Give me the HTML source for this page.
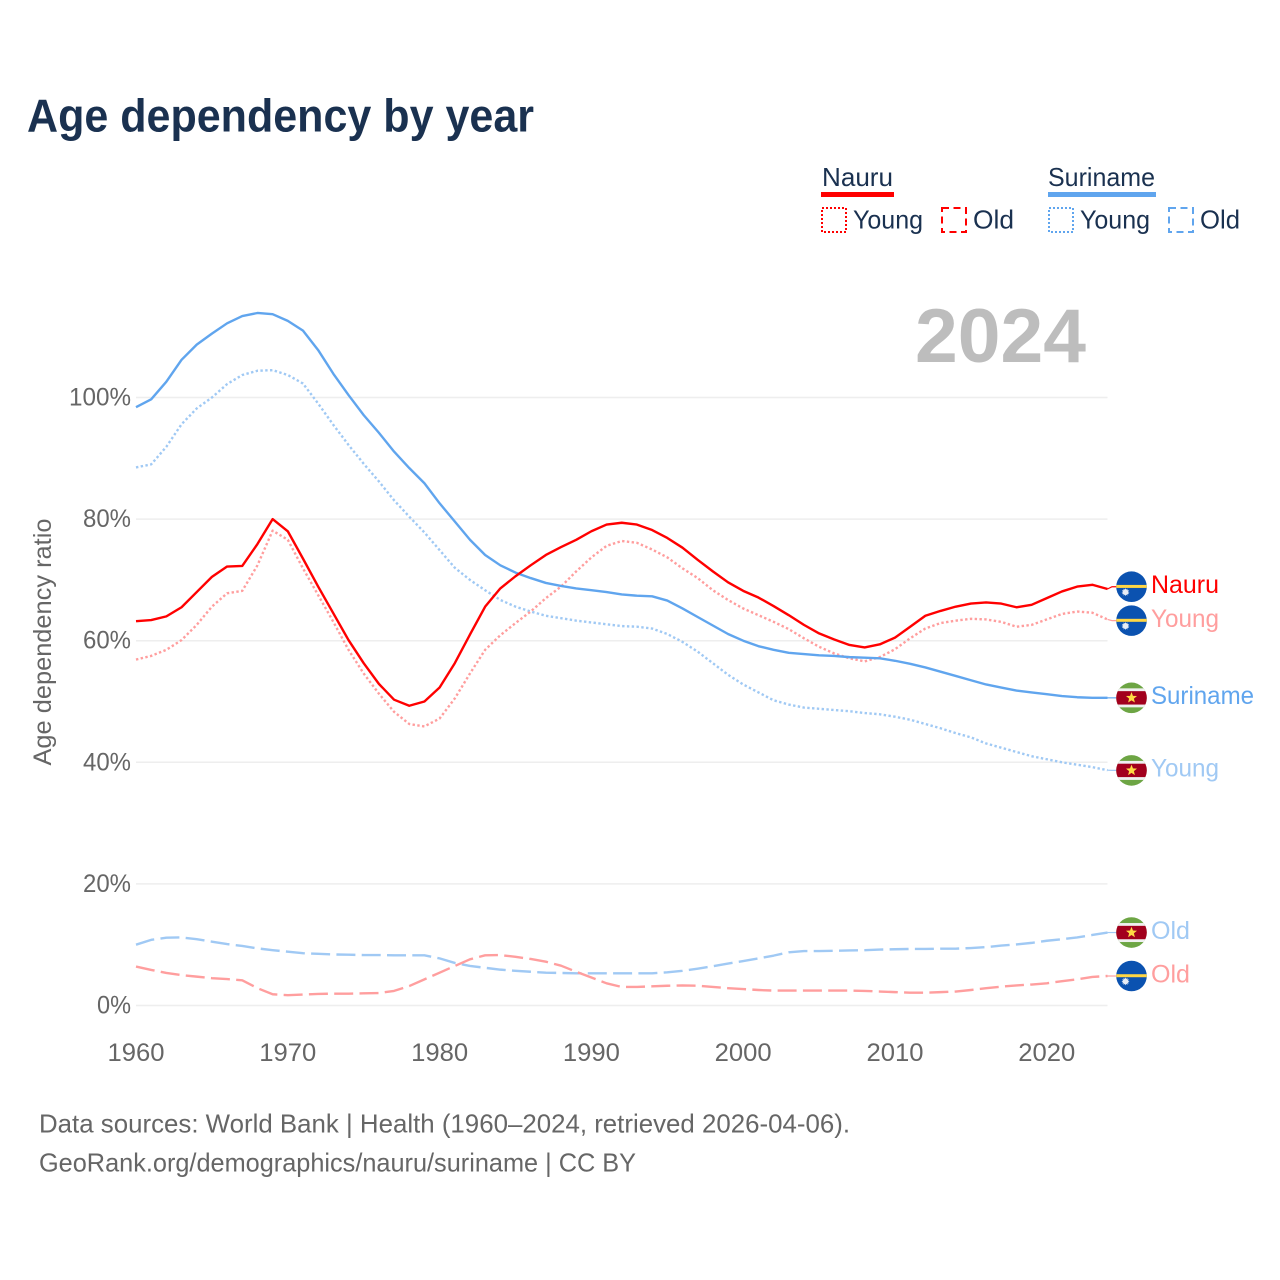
<!DOCTYPE html>
<html lang="en">
<head>
<meta charset="utf-8">
<title>Age dependency by year</title>
<style>
html,body{margin:0;padding:0;background:#fff;}
svg{display:block;font-family:"Liberation Sans",sans-serif;}
</style>
</head>
<body>
<svg id="chart" xmlns="http://www.w3.org/2000/svg" width="1280" height="1280" viewBox="0 0 1280 1280">
  <rect x="0" y="0" width="1280" height="1280" fill="#ffffff"/>
  <text x="27" y="131.5" font-size="46" font-weight="700" fill="#1a3150" textLength="507" lengthAdjust="spacingAndGlyphs">Age dependency by year</text>

  <g font-size="26" fill="#1a3150">
    <text x="822" y="186" textLength="71" lengthAdjust="spacingAndGlyphs">Nauru</text>
    <rect x="821" y="192" width="73" height="5" fill="#ff0000"/>
    <rect x="822" y="208" width="24" height="24" fill="none" stroke="#ff0000" stroke-width="2" stroke-dasharray="2 2"/>
    <text x="853" y="228.5" textLength="70" lengthAdjust="spacingAndGlyphs">Young</text>
    <rect x="942" y="208" width="24" height="24" fill="none" stroke="#ff0000" stroke-width="2" stroke-dasharray="7 4.5"/>
    <text x="973" y="228.5" textLength="41" lengthAdjust="spacingAndGlyphs">Old</text>
    <text x="1048" y="186" textLength="107" lengthAdjust="spacingAndGlyphs">Suriname</text>
    <rect x="1048" y="192" width="108" height="5" fill="#60a5ee"/>
    <rect x="1049" y="208" width="24" height="24" fill="none" stroke="#60a5ee" stroke-width="2" stroke-dasharray="2 2"/>
    <text x="1080" y="228.5" textLength="70" lengthAdjust="spacingAndGlyphs">Young</text>
    <rect x="1169" y="208" width="24" height="24" fill="none" stroke="#60a5ee" stroke-width="2" stroke-dasharray="7 4.5"/>
    <text x="1200" y="228.5" textLength="40" lengthAdjust="spacingAndGlyphs">Old</text>
  </g>

  <text transform="translate(51,642) rotate(-90)" text-anchor="middle" font-size="25" fill="#666666" textLength="247" lengthAdjust="spacingAndGlyphs">Age dependency ratio</text>

  <g id="grid"></g>
  <g id="xticks"></g>
  <g id="yticks"></g>

  <text x="915" y="362" font-size="76" font-weight="700" fill="#bdbdbd" textLength="171" lengthAdjust="spacingAndGlyphs">2024</text>

  <g id="series"></g>
  <g id="endlabels"></g>

  <text x="39" y="1132.5" font-size="26" fill="#666666" textLength="811" lengthAdjust="spacingAndGlyphs">Data sources: World Bank | Health (1960–2024, retrieved 2026-04-06).</text>
  <text x="39" y="1171.5" font-size="26" fill="#666666" textLength="597" lengthAdjust="spacingAndGlyphs">GeoRank.org/demographics/nauru/suriname | CC BY</text>
</svg>
<script>
var firstYear = 1960;
var lastYear = 2024;
var xTickLabels = ["1960","1970","1980","1990","2000","2010","2020"];
var yTickLabels = ["0%","20%","40%","60%","80%","100%"];

var surinameTotal = [98.4,99.7,102.6,106.2,108.7,110.5,112.2,113.4,113.9,113.7,112.6,111.0,107.8,103.9,100.4,97.1,94.2,91.1,88.4,85.9,82.6,79.6,76.6,74.1,72.4,71.2,70.3,69.5,69.0,68.6,68.3,68.0,67.6,67.4,67.3,66.6,65.3,63.9,62.5,61.1,60.0,59.1,58.5,58.0,57.8,57.6,57.5,57.3,57.2,57.1,56.7,56.2,55.6,54.9,54.2,53.5,52.8,52.3,51.8,51.5,51.2,50.9,50.7,50.6,50.6];
var surinameYoung = [88.5,89.0,91.9,95.6,98.2,100.0,102.2,103.7,104.4,104.5,103.7,102.3,99.0,95.5,92.2,89.1,86.2,83.1,80.4,77.8,74.9,72.0,70.0,68.3,66.7,65.6,64.8,64.1,63.7,63.3,63.0,62.7,62.4,62.3,62.0,61.1,59.8,58.2,56.3,54.4,52.8,51.5,50.2,49.5,49.0,48.8,48.6,48.4,48.1,47.9,47.5,47.0,46.3,45.6,44.8,44.1,43.1,42.4,41.7,41.0,40.5,40.0,39.6,39.2,38.7];
var surinameOld = [10.0,10.8,11.15,11.2,10.9,10.5,10.1,9.8,9.4,9.1,8.85,8.6,8.5,8.4,8.35,8.3,8.3,8.25,8.25,8.25,7.75,7.0,6.5,6.2,5.9,5.7,5.55,5.4,5.35,5.3,5.3,5.3,5.3,5.3,5.3,5.45,5.7,6.05,6.45,6.9,7.3,7.75,8.2,8.75,8.95,8.95,9.0,9.05,9.1,9.2,9.25,9.3,9.3,9.35,9.35,9.45,9.6,9.85,10.05,10.3,10.65,10.9,11.2,11.6,12.0];
var nauruTotal = [63.2,63.4,64.0,65.5,68.0,70.5,72.2,72.3,75.9,80.0,78.0,73.5,68.9,64.5,60.1,56.3,52.9,50.3,49.3,50.0,52.3,56.3,61.0,65.6,68.6,70.6,72.4,74.1,75.4,76.6,78.0,79.1,79.4,79.1,78.2,76.9,75.3,73.3,71.4,69.6,68.2,67.1,65.7,64.2,62.6,61.2,60.2,59.3,58.9,59.4,60.5,62.3,64.1,64.9,65.6,66.1,66.3,66.1,65.5,65.9,67.0,68.1,68.9,69.2,68.5];
var nauruYoung = [56.9,57.5,58.5,60.1,62.6,65.6,67.8,68.2,72.4,78.1,76.6,71.9,67.5,63.1,58.5,54.6,51.3,48.3,46.3,45.9,47.2,50.5,54.6,58.5,60.9,62.9,64.8,67.0,68.9,71.4,73.7,75.6,76.4,76.1,75.0,73.7,71.9,70.3,68.3,66.7,65.3,64.2,63.1,61.9,60.4,59.0,57.9,57.1,56.6,57.3,58.6,60.4,62.0,62.9,63.3,63.6,63.5,63.1,62.3,62.6,63.5,64.4,64.8,64.6,63.5];
var nauruOld = [6.4,5.85,5.35,5.0,4.75,4.5,4.35,4.15,2.85,1.85,1.7,1.8,1.9,1.95,1.95,2.0,2.05,2.4,3.2,4.3,5.4,6.5,7.6,8.25,8.3,8.0,7.65,7.2,6.55,5.55,4.6,3.65,3.05,3.05,3.15,3.25,3.3,3.25,3.05,2.85,2.7,2.55,2.45,2.45,2.45,2.45,2.45,2.45,2.4,2.3,2.2,2.1,2.1,2.2,2.3,2.55,2.85,3.1,3.3,3.45,3.65,4.0,4.3,4.7,4.85];

var NS = "http://www.w3.org/2000/svg";
function xScale(year){ return 136 + (year - firstYear) * 15.18; }
function yScale(pct){ return 1005.5 - pct * 6.08; }
function mk(tag, parent, attrs){
  var e = document.createElementNS(NS, tag);
  for (var k in attrs) e.setAttribute(k, attrs[k]);
  parent.appendChild(e);
  return e;
}
function tickWidth(s){ return s.length === 4 && s.indexOf("%") < 0 ? 57 : (s.length === 4 ? 62 : (s.length === 3 ? 48 : 34)); }

var grid = document.getElementById("grid");
var yt = document.getElementById("yticks");
yTickLabels.forEach(function(lab){
  var v = parseFloat(lab);
  var line = mk("line", grid, {x1:136, x2:xScale(lastYear), y1:yScale(v), y2:yScale(v), stroke:"#eeeeee", "stroke-width":1.5});
  
  
  var t = mk("text", yt, {x:131, y:yScale(v)+8, "text-anchor":"end", "font-size":25, fill:"#666666", textLength:tickWidth(lab), lengthAdjust:"spacingAndGlyphs"});
  
  
  t.textContent = lab;
});

var xt = document.getElementById("xticks");
xTickLabels.forEach(function(lab){
  var t = mk("text", xt, {x:xScale(+lab), y:1061, "text-anchor":"middle", "font-size":25, fill:"#666666", textLength:tickWidth(lab), lengthAdjust:"spacingAndGlyphs"});
  
  
  t.textContent = lab;
});

var RED = "#ff0000", BLUE = "#60a5ee", LRED = "#ff9e9e", LBLUE = "#a0c9f4";
var DOT = "2.4 2.4", DASH = "19 6.3";
var seriesGroup = document.getElementById("series");
var labelGroup = document.getElementById("endlabels");
var flagCount = 0;

function drawLine(values, color, width, dash, name){
  var d = values.map(function(v, i){
    return (i ? "L" : "M") + xScale(firstYear + i).toFixed(2) + " " + yScale(v).toFixed(2);
  }).join("");
  var p = mk("path", seriesGroup, {d:d, fill:"none", stroke:color, "stroke-width":width, "stroke-linejoin":"round"});
  if (dash) p.setAttribute("stroke-dasharray", dash);
  
  
}

function starPoints(n, outer, inner, ox, oy){
  var pts = [];
  for (var i = 0; i < n * 2; i++) {
    var r = i % 2 ? inner : outer, a = -Math.PI / 2 + i * Math.PI / n;
    pts.push((ox + r * Math.cos(a)).toFixed(2) + "," + (oy + r * Math.sin(a)).toFixed(2));
  }
  return pts.join(" ");
}

function drawFlag(kind, cx, cy){
  var g = mk("g", labelGroup, {transform:"translate(" + cx + " " + cy + ")"});
  
  
  var id = "flagclip" + (flagCount++);
  var clip = mk("clipPath", g, {id:id});
  mk("circle", clip, {cx:0, cy:0, r:15.3});
  var inner = mk("g", g, {"clip-path":"url(#" + id + ")"});
  if (kind === "nauru") {
    mk("rect", inner, {x:-16, y:-16, width:32, height:32, fill:"#0b52b0"});
    mk("rect", inner, {x:-16, y:-1.8, width:32, height:3, fill:"#ffd644"});
    mk("polygon", inner, {points:starPoints(12, 4, 2.6, -6, 5.4), fill:"#e6ecf5"});
  } else {
    mk("rect", inner, {x:-16, y:-16, width:32, height:32, fill:"#6da544"});
    mk("rect", inner, {x:-16, y:-9.5, width:32, height:19, fill:"#f0f0f0"});
    mk("rect", inner, {x:-16, y:-6.7, width:32, height:13.4, fill:"#a2001d"});
    mk("polygon", inner, {points:starPoints(5, 5.8, 2.5, 0, 0), fill:"#ffda44"});
  }
}

function drawEnd(values, color, kind, text, textW, shift, name){
  var last = values[values.length - 1];
  var cy = yScale(last) + shift;
  var conn = mk("path", labelGroup, {d:"M" + xScale(lastYear) + " " + yScale(last) + "L1112 " + cy + "L1118 " + cy, fill:"none", stroke:color, "stroke-width":1.2});
  
  
  drawFlag(kind, 1131.5, cy);
  var t = mk("text", labelGroup, {x:1151, y:cy + 6.3, "font-size":25, fill:color, textLength:textW, lengthAdjust:"spacingAndGlyphs"});
  
  
  t.textContent = text;
}

drawLine(surinameOld, LBLUE, 2.4, DASH, "suriname-old-line");
drawLine(nauruOld, LRED, 2.4, DASH, "nauru-old-line");
drawLine(surinameYoung, LBLUE, 2.4, DOT, "suriname-young-line");
drawLine(nauruYoung, LRED, 2.4, DOT, "nauru-young-line");
drawLine(surinameTotal, BLUE, 2.4, null, "suriname-total-line");
drawLine(nauruTotal, RED, 2.4, null, "nauru-total-line");

drawEnd(nauruTotal, RED, "nauru", "Nauru", 68, -2.3, "nauru-total");
drawEnd(nauruYoung, LRED, "nauru", "Young", 68, 1.2, "nauru-young");
drawEnd(surinameTotal, BLUE, "suriname", "Suriname", 103, 0, "suriname-total");
drawEnd(surinameYoung, LBLUE, "suriname", "Young", 68, 0.2, "suriname-young");
drawEnd(surinameOld, LBLUE, "suriname", "Old", 39, 0, "suriname-old");
drawEnd(nauruOld, LRED, "nauru", "Old", 39, 0, "nauru-old");
</script>
</body>
</html>
